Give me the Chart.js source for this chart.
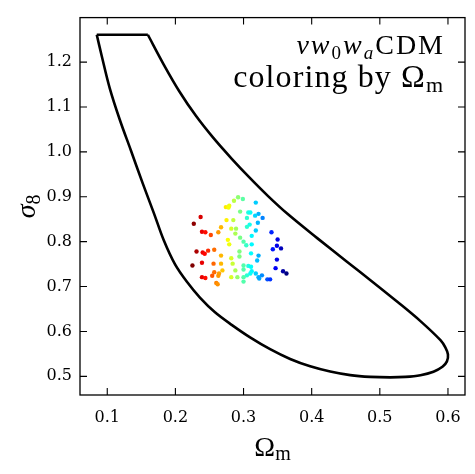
<!DOCTYPE html>
<html>
<head>
<meta charset="utf-8">
<script src="https://cdn.jsdelivr.net/npm/chart.js@4.4.1/dist/chart.umd.min.js"></script>
<style>
  html, body { margin: 0; padding: 0; background: #fff; }
  #chart { display: block; }
</style>
</head>
<body>
<canvas id="chart" width="475" height="474"></canvas>
<script>
// --- Data ---
const xTicks = [0.1, 0.2, 0.3, 0.4, 0.5, 0.6];
const yTicks = [0.5, 0.6, 0.7, 0.8, 0.9, 1.0, 1.1, 1.2];

// contour: flat top edge, then the curved part (clockwise from top-right corner)
const topOmega = [0.0846, 0.1596];
const topSigma8 = [1.261, 1.261];
const contourOmega = [
  0.1596, 0.1831, 0.2066, 0.2301, 0.2551, 0.2831, 0.3096, 0.3360, 0.3640, 0.4081,
  0.4522, 0.4890, 0.5257, 0.5596, 0.5890, 0.5963, 0.6000, 0.5985, 0.5919, 0.5787,
  0.5596, 0.5375, 0.5154, 0.4860, 0.4566, 0.4272, 0.3978, 0.3684, 0.3390, 0.3096,
  0.2831, 0.2581, 0.2360, 0.2169, 0.1993, 0.1831, 0.1684, 0.1522, 0.1346, 0.1184,
  0.1037, 0.0919, 0.0846
];
const contourSigma8 = [
  1.261, 1.1941, 1.1329, 1.0803, 1.0322, 0.9840, 0.9414, 0.9015, 0.8626, 0.8079,
  0.7547, 0.7109, 0.6661, 0.6230, 0.5805, 0.5639, 0.5486, 0.5333, 0.5212, 0.5103,
  0.5026, 0.4987, 0.4976, 0.4987, 0.5026, 0.5107, 0.5223, 0.5387, 0.5606, 0.5869,
  0.6142, 0.6427, 0.6755, 0.7105, 0.7499, 0.8024, 0.8637, 0.9293, 1.0037, 1.0716,
  1.1416, 1.2138, 1.261
];

// sample points
const omegaM = [
  0.292, 0.299, 0.286, 0.274, 0.279, 0.278, 0.318, 0.295, 0.307, 0.310,
  0.322, 0.317, 0.305, 0.328, 0.275, 0.285, 0.321, 0.309, 0.305, 0.237,
  0.227, 0.267, 0.282, 0.289, 0.318, 0.341, 0.239, 0.244, 0.252, 0.263,
  0.288, 0.295, 0.312, 0.350, 0.277, 0.300, 0.279, 0.304, 0.312, 0.349,
  0.355, 0.343, 0.231, 0.240, 0.243, 0.248, 0.257, 0.267, 0.294, 0.294,
  0.311, 0.322, 0.282, 0.320, 0.349, 0.225, 0.239, 0.256, 0.267, 0.284,
  0.300, 0.307, 0.311, 0.347, 0.288, 0.300, 0.312, 0.358, 0.363, 0.269,
  0.257, 0.264, 0.263, 0.254, 0.239, 0.244, 0.282, 0.291, 0.300, 0.305,
  0.310, 0.318, 0.322, 0.327, 0.323, 0.335, 0.339, 0.300, 0.260, 0.262
];
const sigma8 = [
  0.899, 0.895, 0.891, 0.877, 0.880, 0.876, 0.887, 0.867, 0.865, 0.865,
  0.862, 0.858, 0.853, 0.853, 0.848, 0.848, 0.842, 0.838, 0.833, 0.855,
  0.840, 0.832, 0.829, 0.829, 0.825, 0.821, 0.822, 0.821, 0.815, 0.821,
  0.818, 0.809, 0.813, 0.805, 0.804, 0.800, 0.794, 0.792, 0.794, 0.791,
  0.785, 0.783, 0.778, 0.776, 0.773, 0.780, 0.782, 0.769, 0.778, 0.767,
  0.774, 0.769, 0.763, 0.758, 0.760, 0.747, 0.753, 0.751, 0.751, 0.751,
  0.747, 0.746, 0.744, 0.741, 0.736, 0.738, 0.734, 0.734, 0.729, 0.736,
  0.732, 0.729, 0.724, 0.724, 0.721, 0.719, 0.721, 0.721, 0.721, 0.725,
  0.729, 0.729, 0.721, 0.725, 0.718, 0.716, 0.716, 0.711, 0.708, 0.705
];

// --- Colormap (jet, reversed: low Omega_m = dark red) ---
const clamp = v => Math.max(0, Math.min(1, v));
function jet(t) {
  const r = clamp(1.5 - Math.abs(4 * t - 3));
  const g = clamp(1.5 - Math.abs(4 * t - 2));
  const b = clamp(1.5 - Math.abs(4 * t - 1));
  return `rgb(${Math.round(r * 255)},${Math.round(g * 255)},${Math.round(b * 255)})`;
}
const oMin = Math.min(...omegaM);
const oMax = Math.max(...omegaM);
const pointColors = omegaM.map(o => jet(1 - (o - oMin) / (oMax - oMin)));

const toXY = (xs, ys) => xs.map((x, i) => ({ x, y: ys[i] }));

// --- Text helper: runs of text with sub-scripts, optional extra spacing ---
function drawRuns(ctx, runs, x, y, align, spacing = 0) {
  const glyphs = [];
  runs.forEach(r => {
    ctx.font = r.font;
    [...r.t].forEach(ch => glyphs.push({ ch, font: r.font, dy: r.dy || 0, w: ctx.measureText(ch).width }));
  });
  const total = glyphs.reduce((s, g) => s + g.w, 0) + spacing * (glyphs.length - 1);
  let cx = align === 'right' ? x - total : (align === 'center' ? x - total / 2 : x);
  glyphs.forEach(g => {
    ctx.font = g.font;
    ctx.fillText(g.ch, cx, y + g.dy);
    cx += g.w + spacing;
  });
}

const SERIF = '"Liberation Serif", serif';

// --- Frame, inward ticks, labels ---
const decor = {
  id: 'decor',
  afterDraw(chart) {
    const { ctx, chartArea: a, scales: { x, y } } = chart;
    ctx.save();
    ctx.strokeStyle = '#000';
    ctx.lineWidth = 1.3;
    ctx.strokeRect(a.left, a.top, a.right - a.left, a.bottom - a.top);

    ctx.lineWidth = 1.1;
    ctx.beginPath();
    xTicks.forEach(v => {
      const px = x.getPixelForValue(v);
      ctx.moveTo(px, a.bottom); ctx.lineTo(px, a.bottom - 7);
      ctx.moveTo(px, a.top); ctx.lineTo(px, a.top + 7);
    });
    yTicks.forEach(v => {
      const py = y.getPixelForValue(v);
      ctx.moveTo(a.left, py); ctx.lineTo(a.left + 7, py);
      ctx.moveTo(a.right, py); ctx.lineTo(a.right - 7, py);
    });
    ctx.stroke();

    ctx.fillStyle = '#000';
    ctx.textBaseline = 'alphabetic';
    ctx.textAlign = 'left';

    // annotation
    drawRuns(ctx, [
      { t: 'ν', font: `italic 28px ${SERIF}` },
      { t: 'w', font: `italic 28px ${SERIF}` },
      { t: '0', font: `19px ${SERIF}`, dy: 5 },
      { t: 'w', font: `italic 28px ${SERIF}` },
      { t: 'a', font: `italic 19px ${SERIF}`, dy: 5 },
      { t: 'CDM', font: `28px ${SERIF}` }
    ], 443, 54, 'right', 2);
    drawRuns(ctx, [
      { t: 'coloring by Ω', font: `32px ${SERIF}` },
      { t: 'm', font: `22px ${SERIF}`, dy: 5 }
    ], 443, 87, 'right', 1.1);

    // x title
    drawRuns(ctx, [
      { t: 'Ω', font: `28px ${SERIF}` },
      { t: 'm', font: `20px ${SERIF}`, dy: 4 }
    ], (a.left + a.right) / 2, 456, 'center');

    // y title (rotated)
    ctx.translate(35, (a.top + a.bottom) / 2);
    ctx.rotate(-Math.PI / 2);
    drawRuns(ctx, [
      { t: 'σ', font: `italic 28px ${SERIF}` },
      { t: '8', font: `20px ${SERIF}`, dy: 5 }
    ], 0, 0, 'center');
    ctx.restore();
  }
};

// --- Chart ---
const tickFont = { family: '"DejaVu Serif", serif', size: 16 };

new Chart(document.getElementById('chart').getContext('2d'), {
  type: 'scatter',
  data: {
    datasets: [
      {
        data: toXY(omegaM, sigma8),
        pointRadius: 2.2,
        pointBorderWidth: 0,
        pointBackgroundColor: pointColors,
        showLine: false
      },
      {
        data: toXY(contourOmega, contourSigma8),
        showLine: true,
        borderColor: '#000',
        borderWidth: 2.6,
        pointRadius: 0,
        tension: 0.35,
        fill: false
      },
      {
        data: toXY(topOmega, topSigma8),
        showLine: true,
        borderColor: '#000',
        borderWidth: 2.6,
        pointRadius: 0,
        tension: 0,
        fill: false
      }
    ]
  },
  options: {
    responsive: false,
    animation: false,
    devicePixelRatio: 1,
    layout: { padding: { top: 11, right: 10, left: 0, bottom: 0 } },
    plugins: { legend: { display: false }, tooltip: { enabled: false } },
    scales: {
      x: {
        type: 'linear',
        min: 0.06,
        max: 0.625,
        afterFit: s => { s.height = 79; },
        afterBuildTicks: s => { s.ticks = xTicks.map(v => ({ value: v })); },
        grid: { display: false, drawTicks: false },
        border: { display: false },
        ticks: { padding: 13, color: '#000', font: tickFont, callback: v => v.toFixed(1) }
      },
      y: {
        type: 'linear',
        min: 0.4584,
        max: 1.2992,
        afterFit: s => { s.width = 80; },
        afterBuildTicks: s => { s.ticks = yTicks.map(v => ({ value: v })); },
        grid: { display: false, drawTicks: false },
        border: { display: false },
        ticks: { padding: 8, color: '#000', font: tickFont, callback: v => v.toFixed(1) }
      }
    }
  },
  plugins: [decor]
});
</script>
</body>
</html>
